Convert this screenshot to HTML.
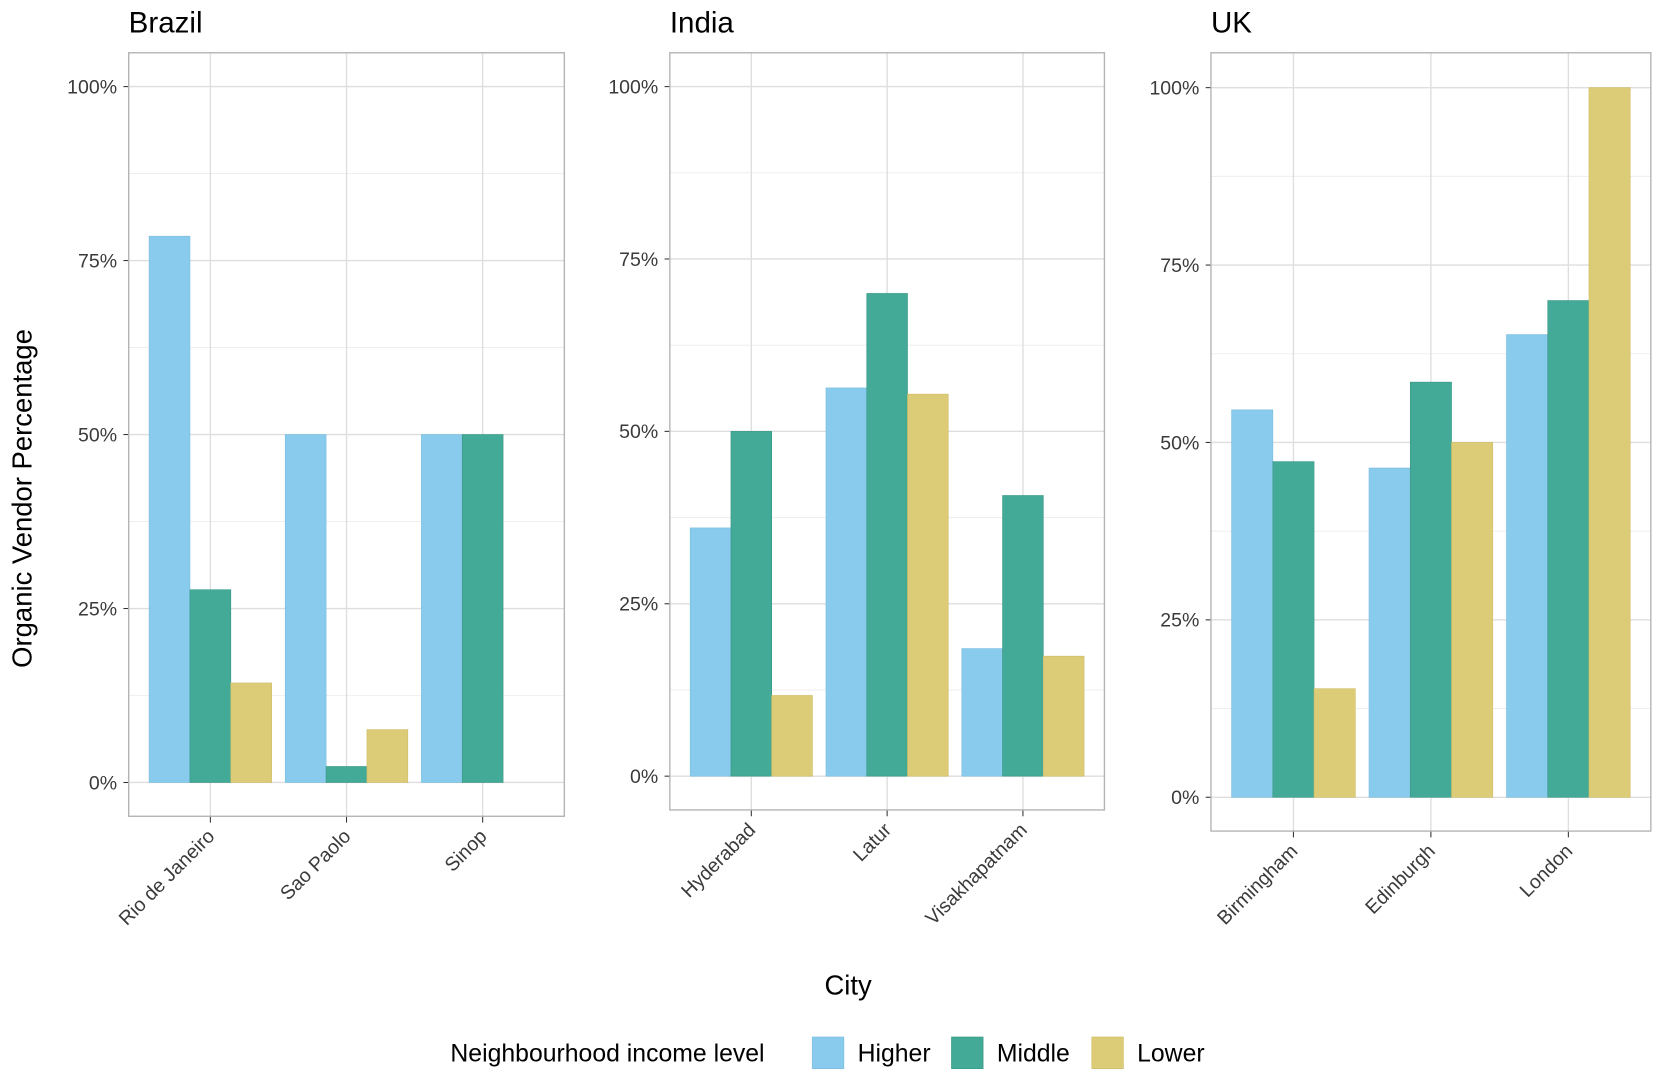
<!DOCTYPE html>
<html><head><meta charset="utf-8"><style>
html,body{margin:0;padding:0;background:#fff;}
svg{display:block;font-family:"Liberation Sans",Arial,sans-serif;}
</style></head><body>
<svg id="chart" width="1654" height="1075" viewBox="0 0 1568 1018" preserveAspectRatio="none" xmlns="http://www.w3.org/2000/svg"></svg>
<script>
const panelNames = ["Brazil", "India", "UK"];
const cities = [["Rio de Janeiro", "Sao Paolo", "Sinop"], ["Hyderabad", "Latur", "Visakhapatnam"], ["Birmingham", "Edinburgh", "London"]];
const higherValues = [[78.5, 50, 50], [36, 56.3, 18.5], [54.6, 46.4, 65.2]];
const middleValues = [[27.7, 2.3, 50], [50, 70, 40.7], [47.3, 58.5, 70]];
const lowerValues = [[14.3, 7.6, 0], [11.7, 55.4, 17.4], [15.3, 50, 100]];
const yTicks = [0, 25, 50, 75, 100];
const yTickLabels = ["0%", "25%", "50%", "75%", "100%"];
const seriesNames = ["Higher", "Middle", "Lower"];

const colors = ["#89CBEC", "#44AA98", "#DDCC77"];
const strokes = ["#7cbde0", "#3a9886", "#cfbd66"];
const NS = "http://www.w3.org/2000/svg";
const svg = document.getElementById("chart");
function mk(tag, attrs, parent) {
  const e = document.createElementNS(NS, tag);
  for (const k in attrs) e.setAttribute(k, attrs[k]);
  (parent || svg).appendChild(e);
  return e;
}
const layouts = [
  {x0: 122, x1: 535, y0: 50, y1: 773, yZero: 741, yHundred: 82},
  {x0: 635, x1: 1047, y0: 50, y1: 767, yZero: 735, yHundred: 82},
  {x0: 1148, x1: 1565, y0: 50, y1: 787, yZero: 755, yHundred: 83}
];
const allSeries = [higherValues, middleValues, lowerValues];
layouts.forEach((L, p) => {
  const g = mk("g", {});
  
  
  const yScale = v => L.yZero + (L.yHundred - L.yZero) * v / 100;
  const n = cities[p].length;
  const unit = (L.x1 - L.x0) / (n - 1 + 1.2);
  const xScale = i => L.x0 + unit * (0.6 + i);
  for (let v = -12.5; v <= 112.5; v += 25) {
    const y = yScale(v);
    if (y > L.y0 && y < L.y1) {
      const ln = mk("line", {x1: L.x0, x2: L.x1, y1: y, y2: y, stroke: "#ececec", "stroke-width": 0.8}, g);
      
      
    }
  }
  yTicks.forEach((v, i) => {
    const y = yScale(v);
    const ln = mk("line", {x1: L.x0, x2: L.x1, y1: y, y2: y, stroke: "#dedede", "stroke-width": 1.3}, g);
    
    
    mk("line", {x1: L.x0 - 5, x2: L.x0, y1: y, y2: y, stroke: "#333", "stroke-width": 1}, g);
    const t = mk("text", {x: L.x0 - 11, y: y + 6.5, "text-anchor": "end", "font-size": 18.5, fill: "#3a3a3a"}, g);
    t.textContent = yTickLabels[i];
    
    
  });
  cities[p].forEach((c, i) => {
    const x = xScale(i);
    mk("line", {x1: x, x2: x, y1: L.y0, y2: L.y1, stroke: "#dedede", "stroke-width": 1.3}, g);
    mk("line", {x1: x, x2: x, y1: L.y1, y2: L.y1 + 6, stroke: "#333", "stroke-width": 1}, g);
    const t = mk("text", {x: 0, y: 0, "text-anchor": "end", "font-size": 18.5, fill: "#3a3a3a", transform: `translate(${x + 5},${L.y1 + 20}) rotate(-45)`}, g);
    t.textContent = c;
    
    
  });
  const bw = unit * 0.9 / 3;
  allSeries.forEach((s, si) => {
    s[p].forEach((v, i) => {
      if (v <= 0) return;
      const x = xScale(i) - unit * 0.45 + bw * si;
      const y = yScale(v);
      const r = mk("rect", {x: x, y: y, width: bw, height: L.yZero - y, fill: colors[si], stroke: strokes[si], "stroke-width": 0.6}, g);
      
      
    });
  });
  const border = mk("rect", {x: L.x0, y: L.y0, width: L.x1 - L.x0, height: L.y1 - L.y0, fill: "none", stroke: "#b3b3b3", "stroke-width": 1.3}, g);
  
  
  const title = mk("text", {x: L.x0, y: 31, "font-size": 28, fill: "#000"}, g);
  title.textContent = panelNames[p];
  
  
});
const yt = mk("text", {x: 0, y: 0, "text-anchor": "middle", "font-size": 26, fill: "#000", transform: "translate(30,472) rotate(-90)"});
yt.textContent = "Organic Vendor Percentage";


const xt = mk("text", {x: 804, y: 942, "text-anchor": "middle", "font-size": 26, fill: "#000"});
xt.textContent = "City";


const lg = mk("g", {});


const lt = mk("text", {x: 427, y: 1005, "font-size": 23.5, fill: "#000"}, lg);
lt.textContent = "Neighbourhood income level";


const keyX = [770, 902, 1035];
seriesNames.forEach((nm, i) => {
  const r = mk("rect", {x: keyX[i], y: 982, width: 30, height: 30, fill: colors[i], stroke: strokes[i], "stroke-width": 0.6}, lg);
  
  
  const t = mk("text", {x: keyX[i] + 43, y: 1005, "font-size": 23.5, fill: "#000"}, lg);
  t.textContent = nm;
  
  
});
</script>
</body></html>
